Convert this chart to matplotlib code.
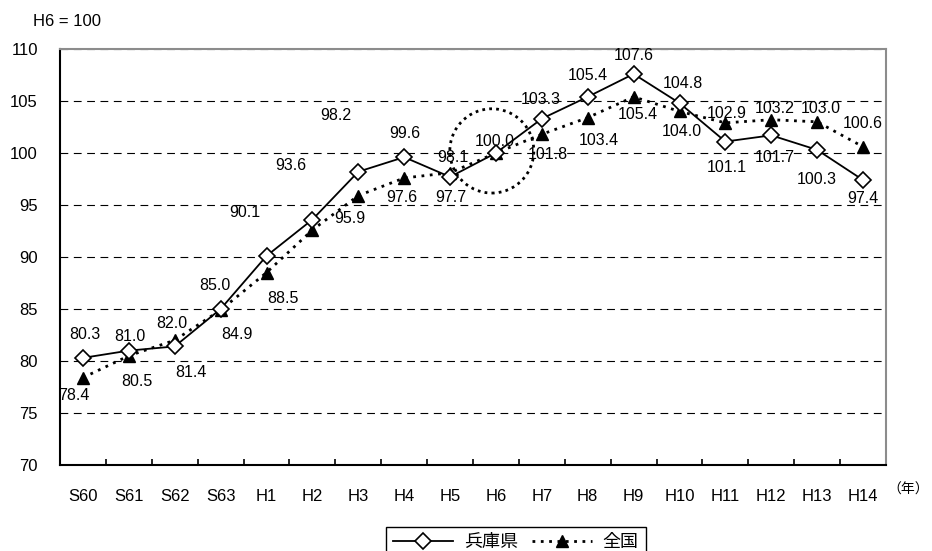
import matplotlib
matplotlib.use('Agg')
import matplotlib.pyplot as plt
import numpy as np
from matplotlib.patches import Ellipse

plt.rcParams['font.family'] = ['Liberation Sans', 'Noto Sans CJK JP']

years = ['S60', 'S61', 'S62', 'S63', 'H1', 'H2', 'H3', 'H4', 'H5', 'H6',
         'H7', 'H8', 'H9', 'H10', 'H11', 'H12', 'H13', 'H14']
hyogo = [80.3, 81.0, 81.4, 85.0, 90.1, 93.6, 98.2, 99.6, 97.7, 100.0,
         103.3, 105.4, 107.6, 104.8, 101.1, 101.7, 100.3, 97.4]
zenkoku = [78.4, 80.5, 82.0, 84.9, 88.5, 92.6, 95.9, 97.6, 98.1, 100.0,
           101.8, 103.4, 105.4, 104.0, 102.9, 103.2, 103.0, 100.6]
# 全国のラベルを表示しない点 (H2, H6)
zenkoku_nolabel = ['H2', 'H6']

# ラベル位置のずれ (px, 右 / 下 が正)
hyogo_off = [(2, -23), (1, -14), (16, 26), (-6, -23), (-22, -43), (-22, -54),
             (-22, -56), (1, -24), (1, 21), (-1, -11), (-1, -19), (0, -21),
             (0, -18), (3, -20), (1, 26), (3, 22), (0, 30), (0, 18)]
zenkoku_off = [(-9, 18), (8, 26), (-3, -17), (16, 24), (16, 26), (0, 0),
               (-8, 23), (-2, 20), (3, -15), (0, 0), (6, 20), (11, 23),
               (4, 18), (2, 20), (1, -9), (3, -11), (4, -13), (0, -23)]

dpi = 100
W, H = 932, 551
fig = plt.figure(figsize=(W / dpi, H / dpi), dpi=dpi)
ax = fig.add_axes([60 / W, (H - 465) / H, 826 / W, 416 / H])

x = np.arange(len(years))

l1, = ax.plot(x, hyogo, color='black', lw=1.3, marker='D', ms=8,
              mfc='white', mec='black', mew=1.2, zorder=4)
l2, = ax.plot(x, zenkoku, color='black', lw=2, ls=(0, (1, 2)),
              marker='^', ms=8, mfc='black', mec='black', zorder=3)

px = 72 / dpi
for i, v in enumerate(hyogo):
    dx, dy = hyogo_off[i]
    ax.annotate(f'{v:.1f}', (i, v), xytext=(dx * px, -dy * px),
                textcoords='offset points', ha='center', va='center',
                fontsize=11.5, zorder=5)
for i, v in enumerate(zenkoku):
    if years[i] in zenkoku_nolabel:
        continue
    dx, dy = zenkoku_off[i]
    ax.annotate(f'{v:.1f}', (i, v), xytext=(dx * px, -dy * px),
                textcoords='offset points', ha='center', va='center',
                fontsize=11.5, zorder=5)

# H6 の点線の円
ax.add_patch(Ellipse((8.91, 100.2), 1.83, 8.1, fill=False, ec='black',
                     lw=2, ls=(0, (1, 1.5)), zorder=2))

ax.set_xlim(-0.5, len(years) - 0.5)
ax.set_ylim(70, 110)
ax.set_yticks(range(70, 111, 5))
ax.set_xticks(x)
ax.set_xticklabels(years)
ax.set_xticks(np.arange(-0.5, len(years), 1), minor=True)
ax.tick_params(axis='x', which='major', length=0, pad=17, labelsize=12)
ax.tick_params(axis='x', which='minor', direction='in', length=4.5,
               width=1.2)
ax.tick_params(axis='y', length=0, pad=16, labelsize=12)

ax.grid(axis='y', color='black', lw=0.8, ls=(0, (7, 5)), zorder=1)
ax.set_axisbelow(True)

for s in ['left', 'bottom']:
    ax.spines[s].set_linewidth(1.5)
    ax.spines[s].set_color('black')
for s in ['top', 'right']:
    ax.spines[s].set_linewidth(1.5)
    ax.spines[s].set_color('#8c8c8c')

fig.text(67 / W, 1 - 21 / H, 'H6 = 100', ha='center', va='center', fontsize=12)
fig.text(929 / W, 1 - 490 / H, '（年）', ha='right', va='center', fontsize=10)

leg = fig.legend([l1, l2], ['兵庫県', '全国'], loc='upper center',
                 bbox_to_anchor=(516 / W, 1 - 527 / H), ncol=2, fontsize=13,
                 frameon=True, fancybox=False, edgecolor='black',
                 framealpha=1, handlelength=3.3, columnspacing=0.8,
                 handletextpad=0.6, borderpad=0.4, borderaxespad=0)
leg.get_frame().set_linewidth(1)

fig.savefig('out.png', dpi=dpi)
